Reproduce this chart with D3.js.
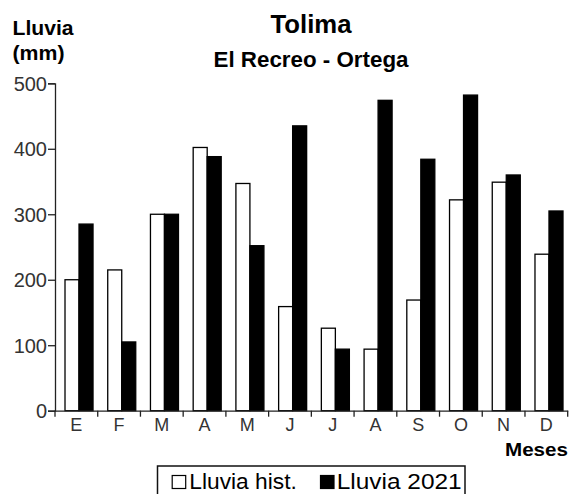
<!DOCTYPE html>
<html><head><meta charset="utf-8">
<script src="https://cdn.jsdelivr.net/npm/d3@7"></script>
<style>body{margin:0;background:#fff}svg{display:block}</style>
</head><body>
<script>
const months = ["E","F","M","A","M","J","J","A","S","O","N","D"];
const histValues = [200,215,300,402,347,159,126,94,169,322,349,239];
const values2021 = [285,105,300,388,252,435,94,474,384,482,360,305];
const yTicks = [0,100,200,300,400,500];
const seriesNames = ["Lluvia hist.","Lluvia 2021"];

const W=570,H=494;
const svg=d3.select("body").append("svg").attr("width",W).attr("height",H);
const x0=55,x1=567.7,y0=410.7,yTop=83.3;
const idx=months.map((d,i)=>i);
const x=d3.scaleBand().domain(idx).range([x0,x1]).padding(0);
const bw=x.bandwidth();
const xs=d3.scaleBand().domain([0,1]).range([bw*10/42.7,bw*38/42.7]).padding(0);
const y=d3.scaleLinear().domain([0,500]).range([y0,yTop]);
const font="Arial, 'Liberation Sans', sans-serif";

// bars
const g=svg.append("g");
const data=[];
idx.forEach(i=>{data.push({i,s:0,v:histValues[i]});data.push({i,s:1,v:values2021[i]});});
g.selectAll("rect").data(data).join("rect")
 .attr("x",d=>x(d.i)+xs(d.s)).attr("width",xs.bandwidth())
 .attr("y",d=>y(d.v)).attr("height",d=>y(0)-y(d.v))
 .attr("fill",d=>d.s?"#000":"#fff").attr("stroke","#000").attr("stroke-width",1.3);

// y axis
const ya=svg.append("g").attr("transform",`translate(${x0},0)`)
 .call(d3.axisLeft(y).tickValues(yTicks).tickSize(7).tickPadding(1));
ya.select(".domain").attr("stroke","#222").attr("stroke-width",1.3);
ya.selectAll(".tick line").attr("stroke","#222").attr("stroke-width",1.3);
ya.selectAll("text").attr("font-family",font).attr("font-size",20).attr("fill","#333").attr("dy","0.36em");

// x axis
const xa=svg.append("g").attr("transform",`translate(0,${y0})`)
 .call(d3.axisBottom(x).tickFormat(i=>months[i]).tickSize(0).tickPadding(7));
xa.select(".domain").attr("stroke","#222").attr("stroke-width",1.3);
xa.selectAll("text").attr("font-family",font).attr("font-size",18).attr("fill","#333").attr("dy","0.75em");
const bounds=idx.map(i=>x(i)).concat([x1]);
xa.selectAll(".sep").data(bounds).join("line").attr("class","sep")
 .attr("x1",d=>d).attr("x2",d=>d).attr("y1",0).attr("y2",6)
 .attr("stroke","#222").attr("stroke-width",1.3);

// titles
svg.append("text").attr("x",311).attr("y",33).attr("text-anchor","middle")
 .attr("font-family",font).attr("font-weight","bold").attr("font-size",26)
 .attr("textLength",81).attr("lengthAdjust","spacingAndGlyphs").text("Tolima");
svg.append("text").attr("x",311).attr("y",66.5).attr("text-anchor","middle")
 .attr("font-family",font).attr("font-weight","bold").attr("font-size",22)
 .attr("textLength",195).attr("lengthAdjust","spacingAndGlyphs").text("El Recreo - Ortega");
svg.append("text").attr("x",12.5).attr("y",35).attr("font-family",font).attr("font-weight","bold")
 .attr("font-size",21).attr("textLength",61).attr("lengthAdjust","spacingAndGlyphs").text("Lluvia");
svg.append("text").attr("x",12.5).attr("y",59.5).attr("font-family",font).attr("font-weight","bold")
 .attr("font-size",21).attr("textLength",52).attr("lengthAdjust","spacingAndGlyphs").text("(mm)");
svg.append("text").attr("x",568).attr("y",456).attr("text-anchor","end").attr("font-family",font)
 .attr("font-weight","bold").attr("font-size",18).attr("textLength",63).attr("lengthAdjust","spacingAndGlyphs").text("Meses");

// legend
const lg=svg.append("g");
lg.append("rect").attr("x",157.5).attr("y",466).attr("width",307.5).attr("height",40)
 .attr("fill","#fff").attr("stroke","#111").attr("stroke-width",1.5);
const items=[{x:171.7,tx:189.3,tl:107.5,fill:"#fff"},{x:320,tx:336.7,tl:125,fill:"#000"}];
items.forEach((it,k)=>{
 lg.append("rect").attr("x",it.x+0.5).attr("y",475.5).attr("width",13.5).attr("height",13)
  .attr("fill",it.fill).attr("stroke","#000").attr("stroke-width",1.2);
 lg.append("text").attr("x",it.tx).attr("y",489.2).attr("font-family",font).attr("font-size",22)
  .attr("textLength",it.tl).attr("lengthAdjust","spacingAndGlyphs").text(seriesNames[k]);
});
</script>
</body></html>
